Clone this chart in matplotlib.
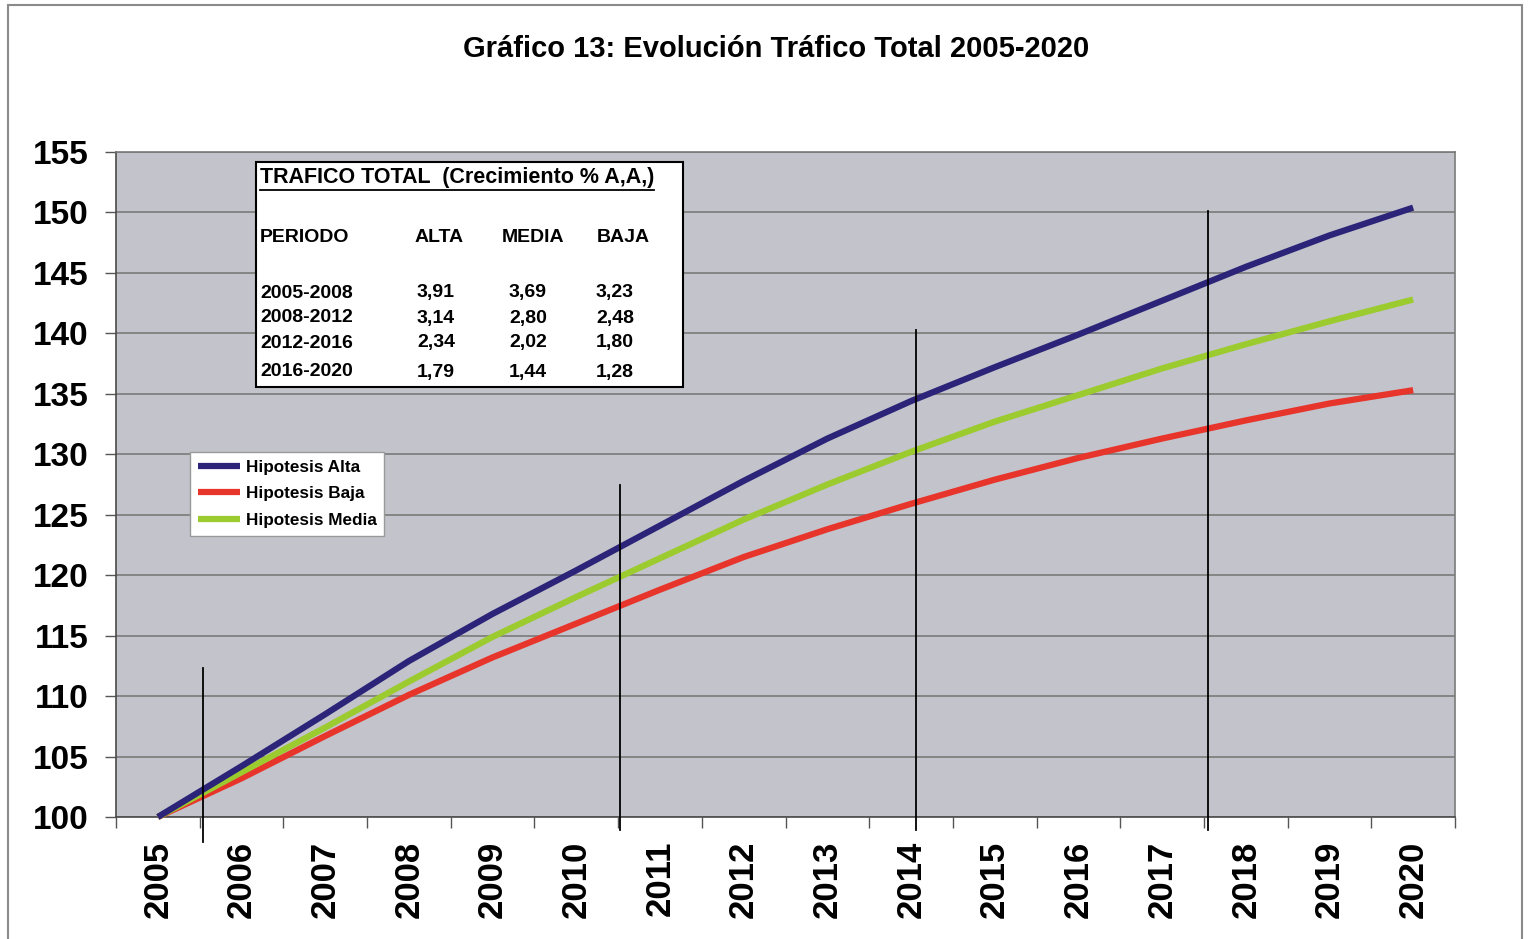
import matplotlib
matplotlib.use("Agg")
import matplotlib.pyplot as plt
from matplotlib.patches import Rectangle
from matplotlib.lines import Line2D

plt.rcParams['font.family'] = ['Liberation Sans', 'DejaVu Sans']

# ---- data -------------------------------------------------------------
years = [str(y) for y in range(2005, 2021)]
alta = [100, 104.2, 108.5, 112.9, 116.8, 120.4, 124.1, 127.8,
        131.3, 134.4, 137.2, 139.9, 142.7, 145.5, 148.1, 150.4]
media = [100, 103.7, 107.4, 111.2, 114.9, 118.2, 121.4, 124.6,
         127.5, 130.2, 132.7, 134.9, 137.1, 139.1, 141.0, 142.8]
baja = [100, 103.2, 106.7, 110.1, 113.2, 116.0, 118.8, 121.5,
        123.8, 125.9, 127.9, 129.7, 131.3, 132.8, 134.2, 135.3]

# period separator lines: (category position, top value, bottom value)
period_marks = [(0.54, 112.3, 97.9), (5.52, 127.5, 98.9),
                (9.06, 140.3, 98.9), (12.55, 150.1, 98.9)]

table_title = "TRAFICO TOTAL  (Crecimiento % A,A,)"
table_header = ["PERIODO", "ALTA", "MEDIA", "BAJA"]
table_rows = [
    ["2005-2008", "3,91", "3,69", "3,23"],
    ["2008-2012", "3,14", "2,80", "2,48"],
    ["2012-2016", "2,34", "2,02", "1,80"],
    ["2016-2020", "1,79", "1,44", "1,28"],
]

yticks = list(range(100, 156, 5))

# ---- figure -----------------------------------------------------------
W, H = 1528, 939
fig = plt.figure(figsize=(W / 100, H / 100), dpi=100)
fig.patch.set_facecolor('white')


def fx(x):
    return x / W


def fy(y):
    return 1 - y / H


# outer frame
fig.add_artist(Rectangle((fx(8), fy(960)), fx(1522) - fx(8), fy(5) - fy(960),
                         transform=fig.transFigure, fill=False,
                         edgecolor='#8a8a8a', linewidth=1.5))

fig.text(fx(776), fy(49), "Gráfico 13: Evolución Tráfico Total 2005-2020",
         ha='center', va='center', fontsize=21, fontweight='bold')

ax = fig.add_axes([fx(116), fy(817), fx(1455) - fx(116), fy(152) - fy(817)])
ax.set_facecolor('#C3C3CB')
ax.set_xlim(-0.5, len(years) - 0.5)
ax.set_ylim(100, 155)

for s in ax.spines.values():
    s.set_color('#7a7a7a')
    s.set_linewidth(1.2)
ax.spines['bottom'].set_color('#4a4a4a')
ax.spines['left'].set_color('#4a4a4a')

ax.set_yticks(yticks)
ax.set_yticklabels([str(t) for t in yticks], fontsize=24, fontweight='bold')
ax.tick_params(axis='y', length=8, width=1, color='#555555', pad=12)

x = list(range(len(years)))
ax.set_xticks(x)
ax.set_xticklabels(years, rotation=90, fontsize=25, fontweight='bold')
ax.set_xticks([i - 0.5 for i in range(len(years) + 1)], minor=True)
ax.tick_params(axis='x', which='major', length=0, pad=17)
ax.tick_params(axis='x', which='minor', length=8, width=1, color='#555555')

ax.yaxis.grid(True, color='#808080', linewidth=1.3)
ax.set_axisbelow(True)

l_alta, = ax.plot(x, alta, color='#2B2478', linewidth=4.5, clip_on=False,
                  solid_capstyle='butt', solid_joinstyle='round', zorder=4)
l_baja, = ax.plot(x, baja, color='#E8352B', linewidth=4.5, clip_on=False,
                  solid_capstyle='butt', solid_joinstyle='round', zorder=3)
l_media, = ax.plot(x, media, color='#9BCB2E', linewidth=4.5, clip_on=False,
                   solid_capstyle='butt', solid_joinstyle='round', zorder=3.5)

for xp, ytop, ybot in period_marks:
    ax.plot([xp, xp], [ybot, ytop], color='black', linewidth=1.3,
            clip_on=False, zorder=5)

# legend
leg = ax.legend([l_alta, l_baja, l_media],
                ["Hipotesis Alta", "Hipotesis Baja", "Hipotesis Media"],
                loc='upper left', bbox_to_anchor=(fx(190), fy(452)),
                bbox_transform=fig.transFigure, fancybox=False,
                frameon=True, edgecolor='#9a9a9a', framealpha=1,
                prop={'size': 12.3, 'weight': 'bold'}, handlelength=2.45,
                handletextpad=0.36, labelspacing=0.68, borderpad=0.45,
                borderaxespad=0)
leg.get_frame().set_linewidth(1.0)

# growth-rate table
fig.add_artist(Rectangle((fx(256), fy(387)), fx(683) - fx(256), fy(162) - fy(387),
                         transform=fig.transFigure, facecolor='white',
                         edgecolor='black', linewidth=1.5, zorder=6))
t = fig.text(fx(260), fy(178), table_title, ha='left', va='center',
             fontsize=15.5, fontweight='bold', zorder=7)
fig.canvas.draw()
bb = t.get_window_extent(renderer=fig.canvas.get_renderer())
fig.add_artist(Line2D([bb.x0 / W, bb.x1 / W],
                      [(bb.y0 - 1) / H, (bb.y0 - 1) / H],
                      transform=fig.transFigure, color='black',
                      linewidth=1.3, zorder=7))

col_x = [260, 415, 502, 597]
for cx, label in zip(col_x, table_header):
    fig.text(fx(cx), fy(237), label, ha='left', va='center', fontsize=14,
             fontweight='bold', zorder=7)
row_y = [293, 318, 343, 372]
val_x = [260, 417, 509, 596]
for ry, row in zip(row_y, table_rows):
    for cx, cell in zip(val_x, row):
        fig.text(fx(cx), fy(ry), cell, ha='left', va='center', fontsize=14,
                 fontweight='bold', zorder=7)

fig.savefig("out.png", dpi=100, facecolor='white')
